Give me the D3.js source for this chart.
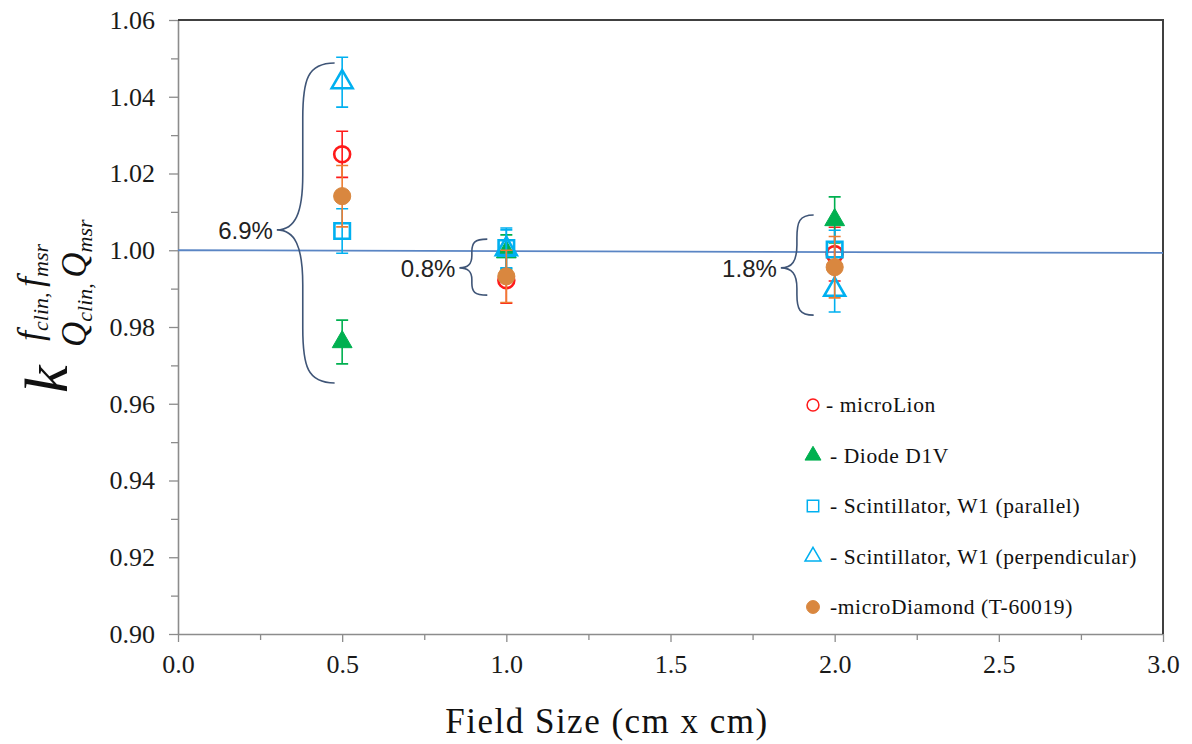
<!DOCTYPE html>
<html>
<head>
<meta charset="utf-8">
<script src="https://cdn.jsdelivr.net/npm/d3@7"></script>
<style>
  body { margin: 0; background: #fff; }
  svg { display: block; }
  .tick text { font-family: "Liberation Serif", "Times New Roman", serif; fill: #1a1a1a; }
</style>
</head>
<body>
<div id="chart"></div>
<script>
'use strict';

// field sizes (cm x cm)
const fieldSizes = [0.5, 1.0, 2.0];

// correction factors per detector, with error bar half-widths
const microLion        = [1.0250, 0.9922, 0.9990];
const microLionErr     = [0.0060, 0.0060, 0.0070];
const diodeD1V         = [0.9761, 0.9995, 1.0079];
const diodeD1VErr      = [0.0057, 0.0045, 0.0060];
const w1Parallel       = [1.0050, 1.0006, 1.0002];
const w1ParallelErr    = [0.0058, 0.0052, 0.0050];
const w1Perpendicular  = [1.0438, 1.0003, 0.9897];
const w1PerpErr        = [0.0065, 0.0050, 0.0058];
const microDiamond     = [1.0141, 0.9932, 0.9956];
const microDiamondErr  = [0.0080, 0.0068, 0.0080];

const seriesNames = [
  '- microLion',
  '- Diode D1V',
  '- Scintillator, W1 (parallel)',
  '- Scintillator, W1 (perpendicular)',
  '-microDiamond (T-60019)'
];

// reference line (value at x = 0 and x = 3)
const refLineX = [0, 3];
const refLineY = [1.0000, 0.9993];

// spread annotations (curly braces)
const braceLabels  = ['6.9%', '0.8%', '1.8%'];
const braceTop     = [1.0488, 1.0029, 1.0092];
const braceBottom  = [0.9654, 0.9883, 0.9831];
const braceTipY    = [1.0053, 0.9954, 0.9954];
const braceTipX    = [0.301, 0.857, 1.836];
const braceSpineX  = [0.380, 0.895, 1.885];
const braceEndX    = [0.477, 0.942, 1.936];

// axis ticks
const xTicks      = [0, 0.5, 1.0, 1.5, 2.0, 2.5, 3.0];
const xMinorTicks = [0.25, 0.75, 1.25, 1.75, 2.25, 2.75];
const yTicks      = [0.90, 0.92, 0.94, 0.96, 0.98, 1.00, 1.02, 1.04, 1.06];
const yMinorTicks = [0.91, 0.93, 0.95, 0.97, 0.99, 1.01, 1.03, 1.05];

const W = 1192, H = 744;
const plot = { left: 178, right: 1163, top: 20, bottom: 634 };

const svg = d3.select('#chart').append('svg')
  .attr('width', W)
  .attr('height', H);

const x = d3.scaleLinear().domain([0, 3]).range([plot.left, plot.right]);
const y = d3.scaleLinear().domain([0.90, 1.06]).range([plot.bottom, plot.top]);

// minor ticks
svg.append('g')
  .attr('transform', `translate(${plot.left},0)`)
  .call(d3.axisLeft(y).tickValues(yMinorTicks).tickSize(7).tickFormat('').tickSizeOuter(0))
  .call(g => g.select('.domain').remove())
  .call(g => g.selectAll('line').attr('stroke', '#8c8c8c').attr('stroke-width', 1.3));

svg.append('g')
  .attr('transform', `translate(0,${plot.bottom})`)
  .call(d3.axisBottom(x).tickValues(xMinorTicks).tickSize(6).tickFormat('').tickSizeOuter(0))
  .call(g => g.select('.domain').remove())
  .call(g => g.selectAll('line').attr('stroke', '#8c8c8c').attr('stroke-width', 1.3));

// major axes
const yAxis = svg.append('g')
  .attr('transform', `translate(${plot.left},0)`)
  .call(d3.axisLeft(y).tickValues(yTicks).tickSize(9).tickPadding(14)
    .tickFormat(d3.format('.2f')).tickSizeOuter(0));
yAxis.select('.domain').attr('stroke', '#8c8c8c').attr('stroke-width', 1.6);
yAxis.selectAll('.tick line').attr('stroke', '#8c8c8c').attr('stroke-width', 1.3);
yAxis.selectAll('.tick text').style('font-size', '26px');

const xAxis = svg.append('g')
  .attr('transform', `translate(0,${plot.bottom})`)
  .call(d3.axisBottom(x).tickValues(xTicks).tickSize(8).tickPadding(13)
    .tickFormat(d3.format('.1f')).tickSizeOuter(0));
xAxis.select('.domain').attr('stroke', '#8c8c8c').attr('stroke-width', 1.6);
xAxis.selectAll('.tick line').attr('stroke', '#8c8c8c').attr('stroke-width', 1.3);
xAxis.selectAll('.tick text').style('font-size', '26px');

// top and right frame
svg.append('path')
  .attr('d', `M${plot.left},${plot.top}H${plot.right}V${plot.bottom}`)
  .attr('fill', 'none')
  .attr('stroke', '#404040')
  .attr('stroke-width', 2);

// reference line at 1.00
svg.append('line')
  .attr('x1', x(refLineX[0])).attr('y1', y(refLineY[0]))
  .attr('x2', x(refLineX[1])).attr('y2', y(refLineY[1]))
  .attr('stroke', '#5a85c4')
  .attr('stroke-width', 1.8);

// braces
const braceColor = '#3f5577';
braceLabels.forEach((lab, i) => {
  const tx = x(braceTipX[i]), ty = y(braceTipY[i]);
  const sx = x(braceSpineX[i]), ex = x(braceEndX[i]);
  const yt = y(braceTop[i]), yb = y(braceBottom[i]);
  const r1 = Math.min(55, (ty - yt) / 2.3);
  const r2 = Math.min(55, (yb - ty) / 2.3);
  const p = d3.path();
  p.moveTo(ex, yt);
  p.bezierCurveTo(sx + (ex - sx) * 0.15, yt, sx, yt + r1 * 0.3, sx, yt + r1);
  p.lineTo(sx, ty - r1);
  p.bezierCurveTo(sx, ty - r1 * 0.3, sx - (sx - tx) * 0.3, ty, tx, ty);
  p.bezierCurveTo(sx - (sx - tx) * 0.3, ty, sx, ty + r2 * 0.3, sx, ty + r2);
  p.lineTo(sx, yb - r2);
  p.bezierCurveTo(sx, yb - r2 * 0.3, sx + (ex - sx) * 0.15, yb, ex, yb);
  svg.append('path')
    .attr('d', p.toString())
    .attr('fill', 'none')
    .attr('stroke', braceColor)
    .attr('stroke-width', 1.6);
  svg.append('text')
    .attr('x', tx - 4)
    .attr('y', ty + 1)
    .attr('text-anchor', 'end')
    .attr('dominant-baseline', 'central')
    .style('font-family', '"Liberation Sans", Arial, sans-serif')
    .style('font-size', '24px')
    .style('fill', '#222')
    .text(lab);
});

// series definitions
const red = '#ff1a1a', green = '#00b050', blue = '#00b0f0';
const orange = '#d9873f', orangeErr = '#ee7d31';
const series = [
  { vals: microLion, err: microLionErr, shape: d3.symbolCircle, size: 200, fill: 'none', stroke: red, errColor: red },
  { vals: diodeD1V, err: diodeD1VErr, shape: d3.symbolTriangle, size: 170, fill: green, stroke: green, errColor: green },
  { vals: w1Parallel, err: w1ParallelErr, shape: d3.symbolSquare, size: 240, fill: 'none', stroke: blue, errColor: blue },
  { vals: w1Perpendicular, err: w1PerpErr, shape: d3.symbolTriangle, size: 190, fill: 'none', stroke: blue, errColor: blue },
  { vals: microDiamond, err: microDiamondErr, shape: d3.symbolCircle, size: 230, fill: orange, stroke: orange, errColor: orangeErr }
];

const cap = 6;
series.forEach(s => {
  const g = svg.append('g');
  fieldSizes.forEach((fs, i) => {
    const cx = x(fs);
    const y0 = y(s.vals[i] - s.err[i]), y1 = y(s.vals[i] + s.err[i]);
    g.append('path')
      .attr('d', `M${cx},${y0}V${y1}M${cx - cap},${y0}H${cx + cap}M${cx - cap},${y1}H${cx + cap}`)
      .attr('fill', 'none')
      .attr('stroke', s.errColor)
      .attr('stroke-width', 1.6);
  });
  g.selectAll('path.pt')
    .data(fieldSizes)
    .enter()
    .append('path')
    .attr('class', 'pt')
    .attr('d', d3.symbol().type(s.shape).size(s.size))
    .attr('transform', (d, i) => `translate(${x(d)},${y(s.vals[i])})`)
    .attr('fill', s.fill)
    .attr('stroke', s.stroke)
    .attr('stroke-width', s.fill === 'none' ? 2.6 : 1);
});

// legend
const legendX = 813, legendTextX = 826, legendY0 = 405, legendStep = 50.5;
const legendSizes = [110, 110, 130, 110, 130];
const legend = svg.append('g');
series.forEach((s, i) => {
  const ly = legendY0 + i * legendStep;
  legend.append('path')
    .attr('d', d3.symbol().type(s.shape).size(legendSizes[i]))
    .attr('transform', `translate(${legendX},${ly})`)
    .attr('fill', s.fill)
    .attr('stroke', s.stroke)
    .attr('stroke-width', s.fill === 'none' ? 1.5 : 1);
  legend.append('text')
    .attr('x', legendTextX + (i === 0 ? 0 : 4))
    .attr('y', ly)
    .attr('dominant-baseline', 'central')
    .style('font-family', '"Liberation Serif", "Times New Roman", serif')
    .style('font-size', '21.5px')
    .style('letter-spacing', '0.6px')
    .style('fill', '#111')
    .text(seriesNames[i]);
});

// x axis title
svg.append('text')
  .attr('x', 607)
  .attr('y', 733)
  .attr('text-anchor', 'middle')
  .style('font-family', '"Liberation Serif", "Times New Roman", serif')
  .style('font-size', '35px')
  .style('letter-spacing', '1.5px')
  .style('fill', '#111')
  .text('Field Size (cm x cm)');

// y axis title: k with stacked super/subscripts
const yt = svg.append('g')
  .attr('transform', 'translate(67,393) rotate(-90)')
  .style('font-family', '"Liberation Serif", "Times New Roman", serif')
  .style('font-style', 'italic')
  .style('fill', '#111');
yt.append('text').style('font-size', '62px').text('k');

const sup = yt.append('text').attr('x', 52).attr('y', -25);
sup.append('tspan').style('font-size', '36px').text('f');
sup.append('tspan').style('font-size', '22px').attr('dy', 6).text('clin');
sup.append('tspan').style('font-size', '22px').text(', ');
sup.append('tspan').style('font-size', '36px').attr('dy', -6).text('f');
sup.append('tspan').style('font-size', '22px').attr('dy', 6).text('msr');

const sub = yt.append('text').attr('x', 46).attr('y', 19);
sub.append('tspan').style('font-size', '35px').text('Q');
sub.append('tspan').style('font-size', '22px').attr('dy', 6).text('clin');
sub.append('tspan').style('font-size', '22px').text(', ');
sub.append('tspan').style('font-size', '35px').attr('dy', -6).text('Q');
sub.append('tspan').style('font-size', '22px').attr('dy', 6).text('msr');
</script>
</body>
</html>
